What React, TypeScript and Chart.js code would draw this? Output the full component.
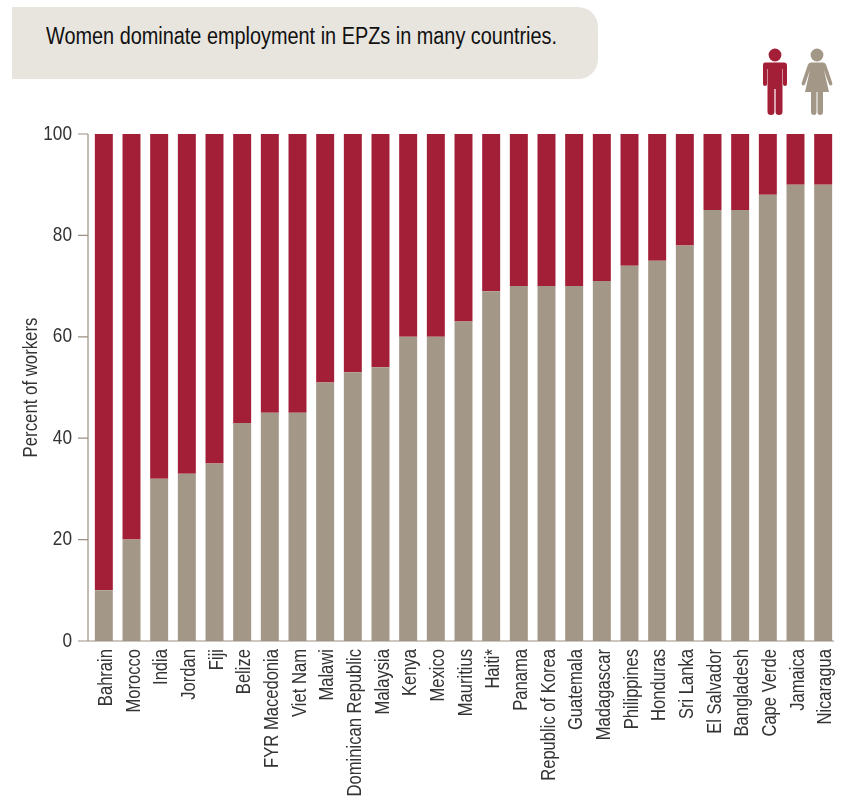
import React, { useEffect, useRef } from "react";
import { Chart, registerables } from "chart.js";

Chart.register(...registerables);

const countries = [
  "Bahrain", "Morocco", "India", "Jordan", "Fiji", "Belize", "FYR Macedonia", "Viet Nam", "Malawi",
  "Dominican Republic", "Malaysia", "Kenya", "Mexico", "Mauritius", "Haiti*", "Panama",
  "Republic of Korea", "Guatemala", "Madagascar", "Philippines", "Honduras", "Sri Lanka",
  "El Salvador", "Bangladesh", "Cape Verde", "Jamaica", "Nicaragua",
];
const womenShare = [10, 20, 32, 33, 35, 43, 45, 45, 51, 53, 54, 60, 60, 63, 69, 70, 70, 70, 71, 74, 75, 78, 85, 85, 88, 90, 90];
const menShare = [90, 80, 68, 67, 65, 57, 55, 55, 49, 47, 46, 40, 40, 37, 31, 30, 30, 30, 29, 26, 25, 22, 15, 15, 12, 10, 10];
const yTicks = [0, 20, 40, 60, 80, 100];

const RED = "#a31f37";
const TAUPE = "#a39888";
const AXIS = "#9c9081";
const FONT = '"Liberation Sans", sans-serif';
const CONDENSE = 0.86;

// Axis lines sit slightly left of the first category band, with outward ticks.
const axisLines = {
  id: "axisLines",
  afterDatasetsDraw(chart: any) {
    const { ctx, scales, chartArea } = chart;
    const x = chartArea.left - 2;
    ctx.save();
    ctx.strokeStyle = AXIS;
    ctx.lineWidth = 1.2;
    ctx.beginPath();
    ctx.moveTo(x, scales.y.getPixelForValue(100));
    ctx.lineTo(x, scales.y.getPixelForValue(0));
    ctx.lineTo(chartArea.right - 3, scales.y.getPixelForValue(0));
    for (const t of yTicks) {
      const y = scales.y.getPixelForValue(t);
      ctx.moveTo(x - 10, y);
      ctx.lineTo(x, y);
    }
    ctx.stroke();
    ctx.restore();
  },
};

// No condensed face is installed, so canvas text is narrowed along its own baseline.
function condenseCanvasText(ctx: CanvasRenderingContext2D, factor: number) {
  const fillText = ctx.fillText.bind(ctx);
  ctx.fillText = (text: string, x: number, y: number) => {
    ctx.save();
    ctx.translate(x, y);
    ctx.scale(factor, 1);
    fillText(text, 0, 0);
    ctx.restore();
  };
}

function ManIcon() {
  return (
    <svg width="26" height="68" viewBox="0 0 26 68" style={{ position: "absolute", left: 761.5, top: 48 }}>
      <circle cx="13" cy="7" r="6.4" fill={RED} />
      <path
        fill={RED}
        d="M3 14.5 H22 Q25 14.5 25 17.5 V36 Q25 38 23 38 Q21 38 21 36 V21 H20.5 V64 Q20.5 67 17 67 Q13.6 67 13.6 64 V41 H12.4 V64 Q12.4 67 9 67 Q5.5 67 5.5 64 V21 H5 V36 Q5 38 3 38 Q1 38 1 36 V17.5 Q1 14.5 3 14.5 Z"
      />
    </svg>
  );
}

function WomanIcon() {
  return (
    <svg width="32" height="68" viewBox="0 0 32 68" style={{ position: "absolute", left: 801, top: 48 }}>
      <circle cx="16" cy="7" r="6.4" fill={TAUPE} />
      <path
        fill={TAUPE}
        d="M10 14.5 H22 Q24 14.5 25 16.5 L31 34 Q32 37 30 37.5 Q28.5 38 27.5 35 L23 22 L28 44 H22 V64 Q22 67 19 67 Q16.5 67 16.5 64 V44 H15.5 V64 Q15.5 67 13 67 Q10 67 10 64 V44 H4 L9 22 L4.5 35 Q3.5 38 2 37.5 Q0 37 1 34 L7 16.5 Q8 14.5 10 14.5 Z"
      />
    </svg>
  );
}

export default function App() {
  const canvasRef = useRef<HTMLCanvasElement | null>(null);

  useEffect(() => {
    if (!canvasRef.current) return;
    condenseCanvasText(canvasRef.current.getContext("2d")!, CONDENSE);
    const chart = new Chart(canvasRef.current, {
      type: "bar",
      data: {
        labels: countries,
        datasets: [
          { label: "Women", data: womenShare, backgroundColor: TAUPE, stack: "s" },
          { label: "Men", data: menShare, backgroundColor: RED, stack: "s" },
        ],
      },
      plugins: [axisLines],
      options: {
        animation: false,
        responsive: false,
        layout: { padding: { top: 134, right: 11, left: 0, bottom: 0 } },
        plugins: { legend: { display: false }, tooltip: { enabled: false } },
        datasets: { bar: { barPercentage: 0.65, categoryPercentage: 1 } },
        scales: {
          x: {
            stacked: true,
            afterFit(scale: any) {
              scale.height = 157;
              scale.paddingLeft = 0;
              scale.paddingRight = 0;
            },
            grid: { display: false },
            border: { display: false },
            ticks: {
              autoSkip: false,
              minRotation: 90,
              maxRotation: 90,
              padding: 0,
              labelOffset: 3,
              color: "#333333",
              font: { family: FONT, size: 19.3 },
            },
          },
          y: {
            stacked: true,
            min: 0,
            max: 100,
            afterFit(scale: any) {
              scale.width = 90;
            },
            afterBuildTicks(scale: any) {
              scale.ticks = yTicks.map((value) => ({ value }));
            },
            grid: { display: false },
            border: { display: false },
            title: {
              display: true,
              text: "Percent of workers",
              color: "#333333",
              padding: { top: 20, bottom: 0 },
              font: { family: FONT, size: 19.5 },
            },
            ticks: { padding: 10, color: "#333333", font: { family: FONT, size: 20 } },
          },
        },
      },
    });
    return () => chart.destroy();
  }, []);

  return (
    <div style={{ position: "absolute", left: 0, top: 0, width: 848, height: 798, background: "#ffffff", overflow: "hidden" }}>
      <div
        style={{
          position: "absolute",
          left: 12,
          top: 7,
          width: 586,
          height: 72,
          background: "#e8e5df",
          borderRadius: "0 20px 20px 0",
        }}
      />
      <div
        style={{
          position: "absolute",
          left: 46,
          top: 22,
          fontFamily: FONT,
          fontSize: 23,
          lineHeight: "28px",
          color: "#111111",
          whiteSpace: "nowrap",
          transform: "scaleX(0.864)",
          transformOrigin: "left center",
        }}
      >
        Women dominate employment in EPZs in many countries.
      </div>
      <ManIcon />
      <WomanIcon />
      <canvas ref={canvasRef} width={848} height={798} style={{ position: "absolute", left: 0, top: 0 }} />
    </div>
  );
}
